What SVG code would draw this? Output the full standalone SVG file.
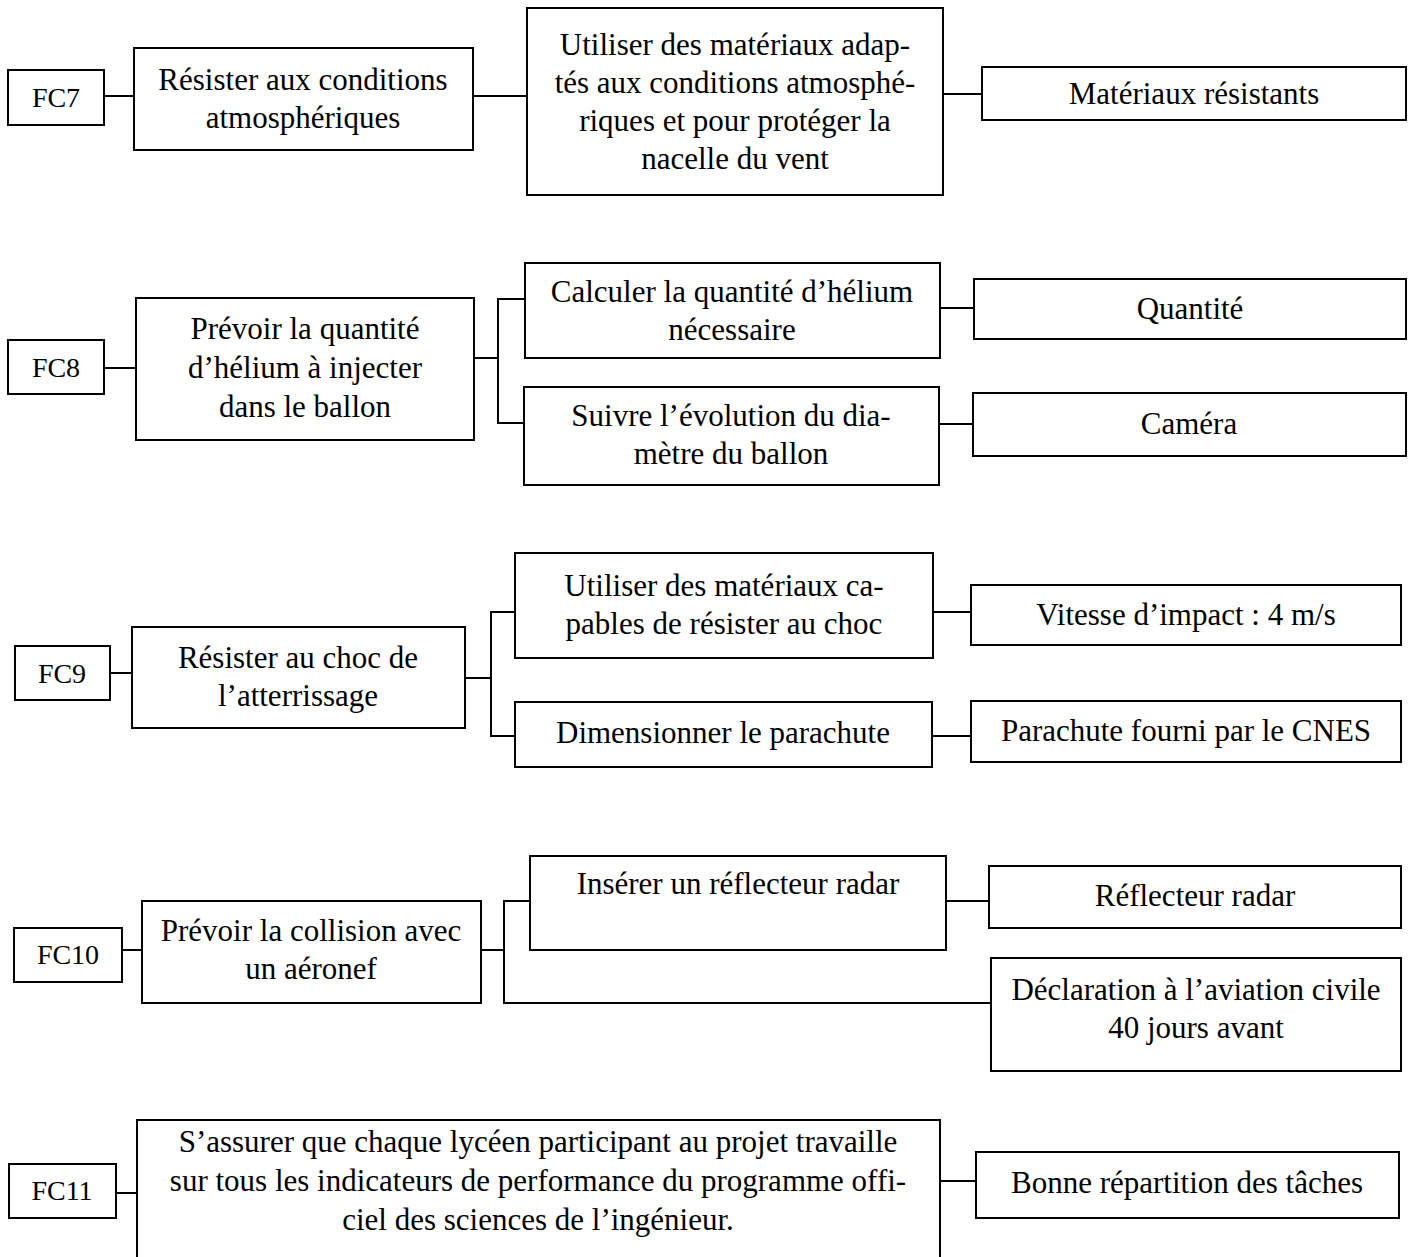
<svg xmlns="http://www.w3.org/2000/svg" width="1416" height="1257" viewBox="0 0 1416 1257">
<style>
.b{fill:#fff;stroke:#000;stroke-width:2}
.t{font-family:"Liberation Serif","Times New Roman",serif;font-size:31px;fill:#000;text-anchor:middle}
.f{font-size:28px}
.c{fill:none;stroke:#000;stroke-width:2}
</style>
<rect width="1416" height="1257" fill="#fff"/>
<g id="connectors">
<path class="c" d="M104 96H134M473 96H527M943 94H982"/>
<path class="c" d="M104 368H136M474 358H498M525 299H498V423H524M940 308H974M939 424H973"/>
<path class="c" d="M110 673H132M465 678H491M515 612H491V736H515M933 612H971M932 736H971"/>
<path class="c" d="M122 950H142M481 950H504M530 901H504V1003H991M946 901H989"/>
<path class="c" d="M116 1193H137M940 1181H976"/>
</g>
<g id="fc7"><rect class="b" x="8" y="70" width="96" height="55"/><text class="t f" x="56" y="107">FC7</text></g>
<g id="n7a"><rect class="b" x="134" y="48" width="339" height="102"/><text class="t" x="303" y="90">Résister aux conditions</text><text class="t" x="303" y="128">atmosphériques</text></g>
<g id="n7b"><rect class="b" x="527" y="8" width="416" height="187"/><text class="t" x="735" y="55">Utiliser des matériaux adap-</text><text class="t" x="735" y="93">tés aux conditions atmosphé-</text><text class="t" x="735" y="131">riques et pour protéger la</text><text class="t" x="735" y="169">nacelle du vent</text></g>
<g id="n7c"><rect class="b" x="982" y="67" width="424" height="53"/><text class="t" x="1194" y="104">Matériaux résistants</text></g>

<g id="fc8"><rect class="b" x="8" y="340" width="96" height="54"/><text class="t f" x="56" y="377">FC8</text></g>
<g id="n8a"><rect class="b" x="136" y="298" width="338" height="142"/><text class="t" x="305" y="339">Prévoir la quantité</text><text class="t" x="305" y="378">d’hélium à injecter</text><text class="t" x="305" y="417">dans le ballon</text></g>
<g id="n8b"><rect class="b" x="525" y="263" width="415" height="95"/><text class="t" x="732" y="302">Calculer la quantité d’hélium</text><text class="t" x="732" y="340">nécessaire</text></g>
<g id="n8c"><rect class="b" x="524" y="387" width="415" height="98"/><text class="t" x="731" y="426">Suivre l’évolution du dia-</text><text class="t" x="731" y="464">mètre du ballon</text></g>
<g id="n8d"><rect class="b" x="974" y="279" width="432" height="60"/><text class="t" x="1190" y="319">Quantité</text></g>
<g id="n8e"><rect class="b" x="973" y="393" width="433" height="63"/><text class="t" x="1189" y="434">Caméra</text></g>

<g id="fc9"><rect class="b" x="15" y="646" width="95" height="54"/><text class="t f" x="62" y="683">FC9</text></g>
<g id="n9a"><rect class="b" x="132" y="627" width="333" height="101"/><text class="t" x="298" y="668">Résister au choc de</text><text class="t" x="298" y="706">l’atterrissage</text></g>
<g id="n9b"><rect class="b" x="515" y="553" width="418" height="105"/><text class="t" x="724" y="596">Utiliser des matériaux ca-</text><text class="t" x="724" y="634">pables de résister au choc</text></g>
<g id="n9c"><rect class="b" x="971" y="585" width="430" height="60"/><text class="t" x="1186" y="625">Vitesse d’impact : 4 m/s</text></g>
<g id="n9d"><rect class="b" x="515" y="702" width="417" height="65"/><text class="t" x="723" y="743">Dimensionner le parachute</text></g>
<g id="n9e"><rect class="b" x="971" y="701" width="430" height="61"/><text class="t" x="1186" y="741">Parachute fourni par le CNES</text></g>

<g id="fc10"><rect class="b" x="14" y="928" width="108" height="54"/><text class="t f" x="68" y="964">FC10</text></g>
<g id="n10a"><rect class="b" x="142" y="901" width="339" height="102"/><text class="t" x="311" y="941">Prévoir la collision avec</text><text class="t" x="311" y="979">un aéronef</text></g>
<g id="n10b"><rect class="b" x="530" y="856" width="416" height="94"/><text class="t" x="738" y="894">Insérer un réflecteur radar</text></g>
<g id="n10c"><rect class="b" x="989" y="866" width="412" height="62"/><text class="t" x="1195" y="906">Réflecteur radar</text></g>
<g id="n10d"><rect class="b" x="991" y="958" width="410" height="113"/><text class="t" x="1196" y="1000">Déclaration à l’aviation civile</text><text class="t" x="1196" y="1038">40 jours avant</text></g>

<g id="fc11"><rect class="b" x="9" y="1164" width="107" height="54"/><text class="t f" x="62" y="1200">FC11</text></g>
<g id="n11a"><rect class="b" x="137" y="1120" width="803" height="150"/><text class="t" x="538" y="1152">S’assurer que chaque lycéen participant au projet travaille</text><text class="t" x="538" y="1191">sur tous les indicateurs de performance du programme offi-</text><text class="t" x="538" y="1230">ciel des sciences de l’ingénieur.</text></g>
<g id="n11b"><rect class="b" x="976" y="1152" width="423" height="66"/><text class="t" x="1187" y="1193">Bonne répartition des tâches</text></g>
</svg>
